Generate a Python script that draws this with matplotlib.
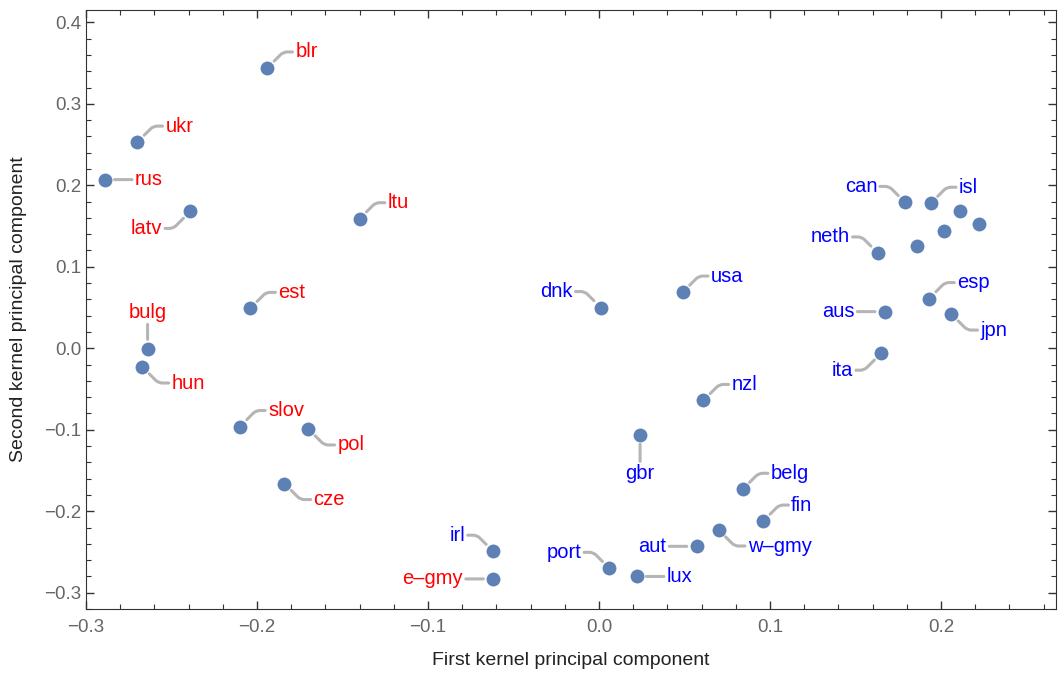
import matplotlib.pyplot as plt
from matplotlib.ticker import MultipleLocator

plt.rcParams['font.family'] = ['Liberation Sans', 'DejaVu Sans']

# country codes, first/second kernel principal components, group (east = red)
names = ['blr', 'ukr', 'rus', 'latv', 'ltu', 'est', 'bulg', 'hun', 'slov', 'pol',
         'cze', 'e\u2013gmy',
         'irl', 'port', 'lux', 'aut', 'w\u2013gmy', 'fin', 'belg', 'gbr', 'nzl',
         'dnk', 'usa', 'ita', 'aus', 'esp', 'jpn', 'neth', 'can', 'isl',
         '', '', '', '']
pc1 = [-0.194, -0.270, -0.289, -0.239, -0.140, -0.204, -0.264, -0.267, -0.210, -0.170,
       -0.184, -0.062,
       -0.062, 0.006, 0.022, 0.057, 0.070, 0.096, 0.084, 0.024, 0.061,
       0.001, 0.049, 0.165, 0.167, 0.193, 0.206, 0.163, 0.179, 0.194,
       0.186, 0.202, 0.211, 0.222]
pc2 = [0.344, 0.253, 0.207, 0.168, 0.159, 0.049, -0.001, -0.023, -0.096, -0.099,
       -0.166, -0.283,
       -0.249, -0.270, -0.280, -0.243, -0.223, -0.212, -0.173, -0.106, -0.064,
       0.050, 0.069, -0.006, 0.045, 0.061, 0.042, 0.117, 0.179, 0.178,
       0.126, 0.144, 0.169, 0.153]
east = ['blr', 'ukr', 'rus', 'latv', 'ltu', 'est', 'bulg', 'hun', 'slov', 'pol',
        'cze', 'e\u2013gmy']

# where each callout sits relative to its point
place = {'blr': 'ur', 'ukr': 'ur', 'rus': 'r', 'latv': 'dl', 'ltu': 'ur', 'est': 'ur',
         'bulg': 't', 'hun': 'dr', 'slov': 'ur', 'pol': 'dr', 'cze': 'dr',
         'e\u2013gmy': 'l', 'irl': 'ul', 'port': 'ul', 'lux': 'r', 'aut': 'l',
         'w\u2013gmy': 'dr', 'fin': 'ur', 'belg': 'ur', 'gbr': 'b', 'nzl': 'ur',
         'dnk': 'ul', 'usa': 'ur', 'ita': 'dl', 'aus': 'l', 'esp': 'ur', 'jpn': 'dr',
         'neth': 'ul', 'can': 'ul', 'isl': 'ur'}

px = 0.72  # points per pixel at dpi 100
offs = {'ur': (28, 16, 'left', 45), 'dr': (29, -16, 'left', -45),
        'ul': (-28, 16, 'right', -45), 'dl': (-28, -17, 'right', 45),
        'r': (30, 0, 'left', None), 'l': (-30, 0, 'right', None),
        't': (0, 37, 'center', None), 'b': (0, -39, 'center', None)}

fig = plt.figure(figsize=(10.62, 6.73), dpi=100)
ax = fig.add_axes([0.081, 0.095, 0.913, 0.890])

ax.scatter(pc1, pc2, s=100, color='#5E81B5', zorder=3, linewidths=0)

leader = '#b5b5b5'
for n, x, y in zip(names, pc1, pc2):
    if not n:
        continue
    dx, dy, ha, ang = offs[place[n]]
    if ang is None:
        cs = 'arc3'
    else:
        cs = 'angle,angleA=0,angleB=%d,rad=4' % ang
    ax.annotate(n, (x, y), xytext=(dx * px, dy * px), textcoords='offset points',
                ha=ha, va='center', fontsize=14.5,
                color='red' if n in east else 'blue',
                arrowprops=dict(arrowstyle='-', color=leader, lw=2.2,
                                connectionstyle=cs, shrinkA=0, shrinkB=7,
                                capstyle='round'),
                zorder=2)

ax.set_xlim(-0.3, 0.267)
ax.set_ylim(-0.32, 0.415)
ax.xaxis.set_major_locator(MultipleLocator(0.1))
ax.xaxis.set_minor_locator(MultipleLocator(0.02))
ax.yaxis.set_major_locator(MultipleLocator(0.1))
ax.yaxis.set_minor_locator(MultipleLocator(0.02))
ax.tick_params(which='both', direction='in', top=True, right=True,
               labelsize=13.5, labelcolor='#666666', color='#333333')
ax.tick_params(which='major', length=6, width=1)
ax.tick_params(which='minor', length=3.5, width=0.8)
ax.tick_params(axis='x', pad=7)
for s in ax.spines.values():
    s.set_color('#333333')
ax.set_xlabel('First kernel principal component', fontsize=14, color='#222222')
ax.set_ylabel('Second kernel principal component', fontsize=14, color='#222222')
ax.xaxis.set_label_coords(0.5, -0.071)
ax.yaxis.set_label_coords(-0.061, 0.5)

fig.savefig('out.png', dpi=100)
